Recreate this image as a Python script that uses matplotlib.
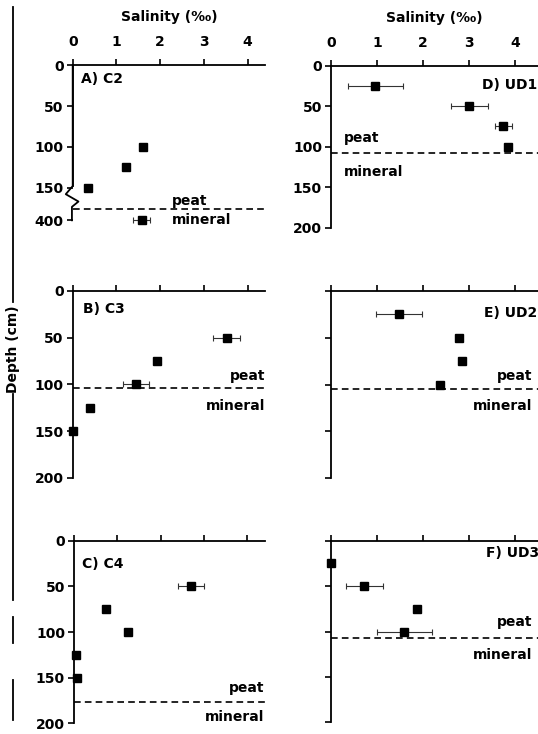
import numpy as np
import matplotlib.pyplot as plt
import matplotlib.transforms as mtransforms
from matplotlib.lines import Line2D

plt.rcParams['font.family'] = ['DejaVu Sans']
plt.rcParams['font.weight'] = 'bold'
plt.rcParams['font.size'] = 10

# --- data (salinity in permil, depth in cm) ---
c2_depth = [100, 125, 150, 400]
c2_sal = [1.60, 1.21, 0.36, 1.58]
c2_err = [0, 0, 0, 0.20]

c3_depth = [50, 75, 100, 125, 150]
c3_sal = [3.52, 1.93, 1.45, 0.40, 0.0]
c3_err = [0.30, 0, 0.30, 0, 0]
c3_boundary = 104

c4_depth = [50, 75, 100, 125, 150]
c4_sal = [2.70, 0.74, 1.24, 0.05, 0.06]
c4_err = [0.30, 0, 0, 0, 0]
c4_boundary = 177

ud1_depth = [25, 50, 75, 100]
ud1_sal = [0.96, 3.00, 3.74, 3.83]
ud1_err = [0.60, 0.40, 0.19, 0]
ud1_boundary = 108

ud2_depth = [25, 50, 75, 100]
ud2_sal = [1.48, 2.78, 2.85, 2.36]
ud2_err = [0.50, 0, 0, 0]
ud2_boundary = 105

ud3_depth = [25, 50, 75, 100]
ud3_sal = [0.0, 0.72, 1.87, 1.59]
ud3_err = [0, 0.40, 0, 0.60]
ud3_boundary = 107.5

sal_ticks = [0, 1, 2, 3, 4]
depth_ticks = [0, 50, 100, 150, 200]

W, H = 538, 734
fig = plt.figure(figsize=(W / 100, H / 100), dpi=100)


def make_ax(l, r, t, b):
    return fig.add_axes([l / W, 1 - b / H, (r - l) / W, (b - t) / H])


def style(ax, xmax, ymax, xlabels, ylabels):
    ax.set_xlim(0, xmax)
    ax.set_ylim(ymax, 0)
    for s in ['right', 'bottom']:
        ax.spines[s].set_visible(False)
    for s in ['left', 'top']:
        ax.spines[s].set_linewidth(1.3)
    ax.xaxis.tick_top()
    ax.set_xticks(sal_ticks)
    ax.tick_params(axis='x', direction='out', length=4.5, width=1.2, pad=7,
                   labeltop=xlabels, labelsize=10)
    ax.tick_params(axis='y', direction='out', length=4.5, width=1.2, pad=2,
                   labelleft=ylabels, labelsize=10)


def points(ax, sal, dep, err):
    ax.errorbar(sal, dep, xerr=err, fmt='s', color='black', ms=5.5,
                ecolor='#333333', elinewidth=0.8, capsize=2.5, capthick=0.8,
                clip_on=False, zorder=3)


def boundary(ax, y):
    ax.axhline(y, 0, 1, color='black', lw=1.2, dashes=(4, 2.5), clip_on=False)


# ---------------- A) C2, broken axis ----------------
axA = make_ax(72.7, 265, 65.3, 220.3)
style(axA, 4.4, 190, True, True)

def c2_pos(d):
    return d if d <= 150 else 190 - (400 - d)

pos = [c2_pos(d) for d in c2_depth]
points(axA, c2_sal, pos, c2_err)
axA.set_yticks([0, 50, 100, 150, 190])
axA.set_yticklabels(['0', '50', '100', '150', '400'])
axA.spines['left'].set_bounds(0, 148)
tr = mtransforms.blended_transform_factory(axA.transAxes, axA.transData)
axA.plot([0, 0, -0.036, 0.03, -0.004, -0.004], [0, 148, 158, 167, 173.5, 190],
         color='black', lw=1.3, transform=tr, clip_on=False)
boundary(axA, 176.5)
axA.text(2.27, 166, 'peat', ha='left', va='center')
axA.text(2.27, 190, 'mineral', ha='left', va='center')
axA.text(0.19, 17, 'A) C2', ha='left', va='center')
axA.set_xlabel('Salinity (‰)', fontsize=10, fontweight='bold', labelpad=10)
axA.xaxis.set_label_position('top')

# ---------------- B) C3 ----------------
axB = make_ax(72.7, 265, 290.7, 478)
style(axB, 4.4, 200, False, True)
axB.set_yticks(depth_ticks)
points(axB, c3_sal, c3_depth, c3_err)
boundary(axB, c3_boundary)
axB.text(4.4, 91, 'peat', ha='right', va='center')
axB.text(4.4, 123, 'mineral', ha='right', va='center')
axB.text(0.23, 20, 'B) C3', ha='left', va='center')

# ---------------- C) C4 ----------------
axC = make_ax(74, 264.5, 540.7, 723.3)
style(axC, 4.4, 200, False, True)
axC.set_yticks(depth_ticks)
points(axC, c4_sal, c4_depth, c4_err)
boundary(axC, c4_boundary)
axC.text(4.4, 161, 'peat', ha='right', va='center')
axC.text(4.4, 193, 'mineral', ha='right', va='center')
axC.text(0.18, 25, 'C) C4', ha='left', va='center')

# ---------------- D) UD1 ----------------
axD = make_ax(331, 538.5, 65.7, 227.7)
style(axD, 4.5, 200, True, True)
axD.set_yticks(depth_ticks)
points(axD, ud1_sal, ud1_depth, ud1_err)
boundary(axD, ud1_boundary)
axD.text(0.28, 89, 'peat', ha='left', va='center')
axD.text(0.28, 131, 'mineral', ha='left', va='center')
axD.text(4.48, 24, 'D) UD1', ha='right', va='center')
axD.set_xlabel('Salinity (‰)', fontsize=10, fontweight='bold', labelpad=10)
axD.xaxis.set_label_position('top')

# ---------------- E) UD2 ----------------
axE = make_ax(331, 538.5, 290.7, 478.3)
style(axE, 4.5, 200, False, False)
axE.set_yticks(depth_ticks)
points(axE, ud2_sal, ud2_depth, ud2_err)
boundary(axE, ud2_boundary)
axE.text(4.37, 91, 'peat', ha='right', va='center')
axE.text(4.37, 123, 'mineral', ha='right', va='center')
axE.text(4.48, 24, 'E) UD2', ha='right', va='center')

# ---------------- F) UD3 ----------------
axF = make_ax(331, 538.5, 540.7, 722.3)
style(axF, 4.5, 200, False, False)
axF.set_yticks(depth_ticks)
points(axF, ud3_sal, ud3_depth, ud3_err)
boundary(axF, ud3_boundary)
axF.text(4.37, 89, 'peat', ha='right', va='center')
axF.text(4.37, 126, 'mineral', ha='right', va='center')
axF.text(4.52, 14, 'F) UD3', ha='right', va='center')

fig.text(13 / W, 1 - 349 / H, 'Depth (cm)', rotation=90, ha='center',
         va='center', fontsize=10, fontweight='bold')

# scan edge line on the left
for y0, y1 in [(7, 302), (394, 600), (617, 643), (680, 720)]:
    fig.add_artist(Line2D([13 / W, 13 / W], [1 - y0 / H, 1 - y1 / H],
                          color='black', lw=1.3))

fig.savefig('out.png', dpi=100)
